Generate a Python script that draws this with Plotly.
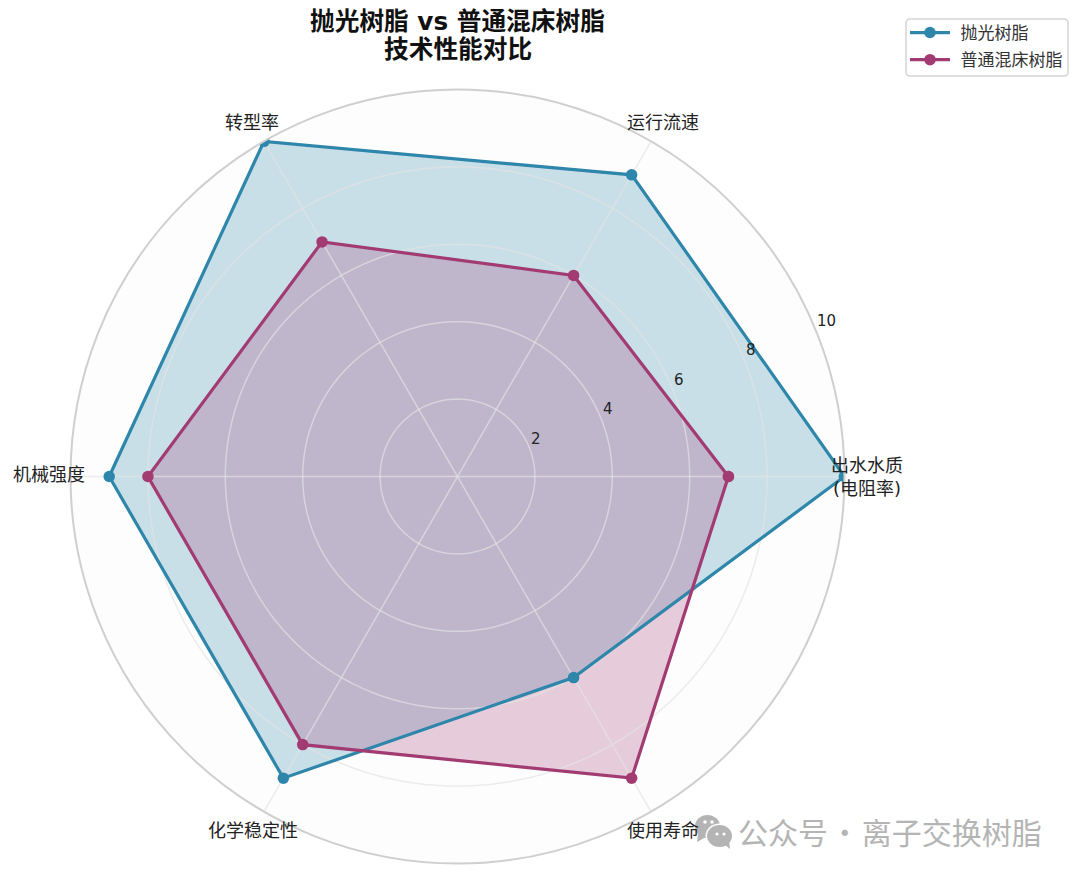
"""Radar chart: polishing resin vs ordinary mixed-bed resin."""
import math

import plotly.graph_objects as go

W, H = 1072, 867  # the page adds an 8 px body margin
CX, CY, R = 457.5, 476.5, 387  # polar centre and outer radius, in picture px
BLUE = "#2E86AB"
PLUM = "#A23B72"
WM_GREY = "#B4B4B4"
FONT = "DejaVu Sans, Noto Sans CJK SC, sans-serif"

title_lines = ["抛光树脂 vs 普通混床树脂", "技术性能对比"]
categories = ["出水水质<br>(电阻率)", "运行流速", "转型率", "机械强度", "化学稳定性", "使用寿命"]
angles = [0, 60, 120, 180, 240, 300]
polish = [10, 9, 10, 9, 9, 6]
mixed = [7, 6, 7, 8, 8, 9]
r_ticks = [2, 4, 6, 8, 10]
label_pos = [(867, 476.5), (662.5, 122), (252, 122), (49, 474.5), (253, 830.5), (662.5, 830)]


def px_x(x):
    return (x - 8) / W


def px_y(y):
    return 1 - (y - 8) / H


def note(text, x, y, size, color, xanchor="center", family=FONT):
    fig.add_annotation(text=text, x=px_x(x), y=px_y(y), xref="paper", yref="paper",
                       xanchor=xanchor, yanchor="middle", showarrow=False,
                       font=dict(family=family, size=size, color=color))


def ellipse(x0, y0, x1, y1, color):
    fig.add_shape(type="circle", xref="paper", yref="paper", line_width=0, fillcolor=color,
                  x0=px_x(x0), x1=px_x(x1), y0=px_y(y1), y1=px_y(y0))


def tail(points, color):
    path = "M " + " L ".join(f"{px_x(x)},{px_y(y)}" for x, y in points) + " Z"
    fig.add_shape(type="path", path=path, xref="paper", yref="paper", line_width=0, fillcolor=color)


fig = go.Figure()

# fills first, then the grid, then the lines: same stacking as the original
for vals, fill in [(polish, "rgba(46,134,171,0.25)"), (mixed, "rgba(162,59,114,0.25)")]:
    fig.add_trace(go.Scatterpolar(
        r=vals + vals[:1], theta=angles + angles[:1], mode="none", fill="toself", fillcolor=fill,
        showlegend=False, hoverinfo="skip",
    ))

GRID = "rgba(227,227,227,0.68)"
for t in r_ticks[:-1]:
    fig.add_trace(go.Scatterpolar(
        r=[t] * 181, theta=list(range(0, 361, 2)), mode="lines",
        line=dict(color=GRID, width=1.5), showlegend=False, hoverinfo="skip",
    ))
for a in angles:
    fig.add_trace(go.Scatterpolar(
        r=[0, r_ticks[-1]], theta=[a, a], mode="lines",
        line=dict(color=GRID, width=1.5), showlegend=False, hoverinfo="skip",
    ))

for name, vals, color in [("抛光树脂", polish, BLUE), ("普通混床树脂", mixed, PLUM)]:
    fig.add_trace(go.Scatterpolar(
        r=vals + vals[:1], theta=angles + angles[:1], name="\u00a0" + name, legendgroup=name,
        mode="lines+markers", line=dict(color=color, width=3.2),
        marker=dict(color=color, size=11.5), cliponaxis=True,
    ))

fig.update_layout(
    width=W, height=H, autosize=False,
    margin=dict(l=0, r=0, t=0, b=0), paper_bgcolor="white",
    font=dict(family=FONT, size=16, color="#222222"),
    polar=dict(
        domain=dict(x=[px_x(CX - R), px_x(CX + R)], y=[px_y(CY + R), px_y(CY - R)]),
        bgcolor="#FDFDFD",
        radialaxis=dict(range=[0, 10], tickvals=r_ticks, showticklabels=False, ticks="",
                        showline=False, showgrid=False),
        angularaxis=dict(tickvals=angles, showticklabels=False, ticks="", showgrid=False,
                         linecolor="#CFCFCF", linewidth=2),
    ),
    # the legend frame is a rounded shape below, the legend itself stays transparent
    legend=dict(x=px_x(905), y=px_y(15), xanchor="left", yanchor="top",
                bgcolor="rgba(0,0,0,0)", borderwidth=0,
                itemwidth=40, tracegroupgap=2, traceorder="grouped",
                font=dict(size=17, color="#333333")),
)

l, t, r, b, c = px_x(906), px_y(19), px_x(1068), px_y(76), 4
cx, cy = c / W, c / H
fig.add_shape(type="path", xref="paper", yref="paper", fillcolor="white",
              line=dict(color="#D5D5D5", width=1.5),
              path=f"M {l + cx},{t} L {r - cx},{t} Q {r},{t} {r},{t - cy} L {r},{b + cy} "
                   f"Q {r},{b} {r - cx},{b} L {l + cx},{b} Q {l},{b} {l},{b + cy} "
                   f"L {l},{t - cy} Q {l},{t} {l + cx},{t} Z")

note(f"<b>{title_lines[0]}</b>", 457.5, 21, 24.7, "#111111")
note(f"<b>{title_lines[1]}</b>", 457.5, 49, 24.7, "#111111")

# category labels, straddling the outer ring the way the original does
for text, (x, y) in zip(categories, label_pos):
    note(text, x, y, 18, "#222222")

# radial tick labels along the 22.5 degree spoke, left-aligned like the original
for t in r_ticks:
    dist = t * R / 10 + 10
    note(str(t), CX - 9 + dist * math.cos(math.radians(22.5)),
         CY - 4 - dist * math.sin(math.radians(22.5)), 15, "#222222", xanchor="left")

# watermark: chat-bubble icon and account name
ellipse(695, 815, 720, 838, WM_GREY)
tail([(698, 834), (697, 842), (706, 837)], WM_GREY)
ellipse(705.5, 823.5, 733.5, 848.5, "white")
ellipse(707, 825, 732, 847, WM_GREY)
tail([(724, 844), (730, 849), (729, 841)], WM_GREY)
for x, y, rad in [(705, 822, 1.8), (712, 822, 1.8), (717, 834, 1.6), (724, 834, 1.6)]:
    ellipse(x - rad, y - rad, x + rad, y + rad, "white")
note("公众号\u200a·\u200a离子交换树脂", 736, 830.5, 30, WM_GREY, xanchor="left",
     family="Noto Sans CJK SC")

fig.write_html("out.html")
